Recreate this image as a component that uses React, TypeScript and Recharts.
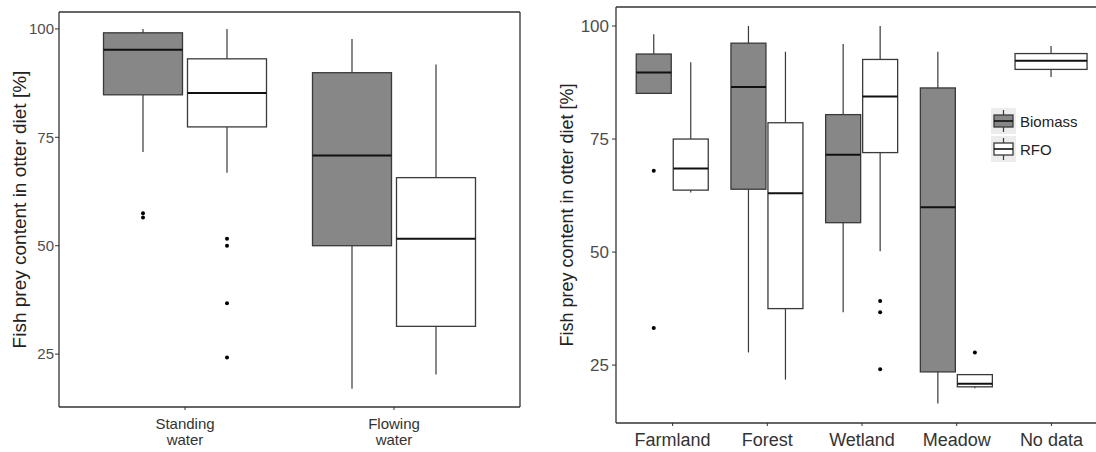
import { Bar, ComposedChart, Legend, XAxis, YAxis } from "recharts";

const font = "'Liberation Sans', Arial, Helvetica, sans-serif";
const biomassFill = "#878787";
const rfoFill = "#ffffff";
const boxStroke = "#3a3a3a";
const frameStroke = "#333333";
const yTitle = "Fish prey content in otter diet [%]";

// box stats: [lower whisker, Q1, median, Q3, upper whisker]
const habitats = ["Standing\nwater", "Flowing\nwater"];
const habitatBiomass = [
  [71.6, 84.8, 95.2, 99.1, 100],
  [17.0, 50.0, 70.8, 89.9, 97.7],
];
const habitatBiomassOutliers = [[57.5, 56.5], []];
const habitatRfo = [
  [66.8, 77.4, 85.2, 93.1, 100],
  [20.3, 31.4, 51.6, 65.7, 91.8],
];
const habitatRfoOutliers = [[51.6, 50.0, 36.7, 24.2], []];

const landUse = ["Farmland", "Forest", "Wetland", "Meadow", "No data"];
const landBiomass = [
  [85.1, 85.1, 89.7, 93.8, 98.2],
  [27.8, 63.9, 86.5, 96.2, 100],
  [36.7, 56.5, 71.5, 80.4, 96.0],
  [16.5, 23.5, 59.9, 86.3, 94.3],
  null,
];
const landBiomassOutliers = [[68.0, 33.2], [], [], [], []];
const landRfo = [
  [63.2, 63.7, 68.5, 75.0, 92.0],
  [21.8, 37.5, 63.0, 78.6, 94.3],
  [50.2, 72.0, 84.4, 92.6, 100],
  [19.9, 20.2, 20.9, 22.9, 22.9],
  [88.7, 90.4, 92.3, 93.9, 95.6],
];
const landRfoOutliers = [[], [], [39.2, 36.7, 24.1], [27.8], []];

const yTicks = [25, 50, 75, 100];
const habitatDomain = [12.8, 103.9];
const landDomain = [12.2, 104.2];

type BoxData = { stats: number[]; outliers: number[] } | null;

function buildRows(names: string[], bio: (number[] | null)[], bioOut: number[][], rfo: (number[] | null)[], rfoOut: number[][]) {
  return names.map((name, i) => ({
    name,
    biomass: bio[i] ? { stats: bio[i] as number[], outliers: bioOut[i] } : null,
    rfo: rfo[i] ? { stats: rfo[i] as number[], outliers: rfoOut[i] } : null,
  }));
}

const habitatRows = buildRows(habitats, habitatBiomass, habitatBiomassOutliers, habitatRfo, habitatRfoOutliers);
const landRows = buildRows(landUse, landBiomass, landBiomassOutliers, landRfo, landRfoOutliers);

// full extent of a box incl. outliers -> used as the bar's [low, high] range
function span(b: BoxData) {
  if (!b) return null;
  return [Math.min(b.stats[0], ...b.outliers), Math.max(b.stats[4], ...b.outliers)];
}

function makeBox(key: "biomass" | "rfo", fill: string, gap: number) {
  return (props: any) => {
    const { x, y, width, height, payload } = props;
    const box: BoxData = payload?.[key];
    if (!box || !isFinite(y) || !isFinite(height)) return <g />;
    const [lo, hi] = span(box) as number[];
    const top = Math.min(y, y + height);
    const h = Math.abs(height);
    const py = (v: number) => top + ((hi - v) / (hi - lo)) * h;
    let left = x;
    let w = width;
    // ggplot gives a lone box the whole dodge width
    if (key === "rfo" && !payload.biomass) {
      left = x - width - gap;
      w = 2 * width + gap;
    }
    const cx = left + w / 2;
    const [wLo, q1, med, q3, wHi] = box.stats;
    return (
      <g>
        <line x1={cx} x2={cx} y1={py(wHi)} y2={py(q3)} stroke={boxStroke} strokeWidth={1.2} />
        <line x1={cx} x2={cx} y1={py(q1)} y2={py(wLo)} stroke={boxStroke} strokeWidth={1.2} />
        <rect x={left} y={py(q3)} width={w} height={py(q1) - py(q3)} fill={fill} stroke={boxStroke} strokeWidth={1.3} />
        <line x1={left} x2={left + w} y1={py(med)} y2={py(med)} stroke="#111" strokeWidth={2} />
        {box.outliers.map((v, i) => (
          <circle key={i} cx={cx} cy={py(v)} r={2} fill="#000" />
        ))}
      </g>
    );
  };
}

function CategoryTick(props: any) {
  const { x, y, payload, size, lineGap, first } = props;
  const lines = String(payload.value).split("\n");
  return (
    <text x={x} y={y} textAnchor="middle" fontSize={size} fill="#333" fontFamily={font}>
      {lines.map((l, i) => (
        <tspan key={i} x={x} dy={i === 0 ? first : lineGap}>
          {l}
        </tspan>
      ))}
    </text>
  );
}

function AxisTitle(props: any) {
  const { viewBox, offsetX, size } = props;
  const cx = (viewBox?.x ?? 0) + offsetX;
  const cy = (viewBox?.y ?? 0) + (viewBox?.height ?? 0) / 2;
  return (
    <text x={cx} y={cy} transform={`rotate(-90 ${cx} ${cy})`} textAnchor="middle" dominantBaseline="central" fontSize={size} fill="#222" fontFamily={font}>
      {yTitle}
    </text>
  );
}

function LegendKeys({ payload }: any) {
  return (
    <div style={{ fontFamily: font, fontSize: 15, color: "#222" }}>
      {(payload || []).map((p: any) => (
        <div key={p.value} style={{ display: "flex", alignItems: "center", height: 28 }}>
          <svg width={25} height={26}>
            <rect x={0} y={0} width={25} height={26} fill="#ececec" />
            <line x1={12.5} x2={12.5} y1={2} y2={24} stroke={boxStroke} strokeWidth={1.2} />
            <rect x={3} y={7} width={19} height={12} fill={p.payload?.fill ?? p.color} stroke={boxStroke} strokeWidth={1.3} />
            <line x1={3} x2={22} y1={13} y2={13} stroke="#111" strokeWidth={1.6} />
          </svg>
          <span style={{ marginLeft: 4 }}>{p.value}</span>
        </div>
      ))}
    </div>
  );
}

export default function App() {
  const axisText = { fill: "#4d4d4d", fontFamily: font };
  const frameLine = { stroke: frameStroke, strokeWidth: 1.3 };
  return (
    <div style={{ position: "fixed", left: 0, top: 0, width: 1096, height: 452, overflow: "hidden", background: "#fff" }}>
      <div style={{ position: "absolute", left: 0, top: 0 }}>
        <ComposedChart width={560} height={452} data={habitatRows} margin={{ top: 11, right: 39, bottom: 0, left: 0 }} barSize={79} barGap={5}>
          <XAxis
            dataKey="name"
            height={45}
            padding={{ left: 21.5, right: 21.5 }}
            tickSize={3}
            tickLine={{ stroke: frameStroke }}
            axisLine={frameLine}
            tick={<CategoryTick size={15} first={17} lineGap={16} />}
            interval={0}
          />
          <XAxis xAxisId="top" orientation="top" dataKey="name" height={1} tick={false} tickLine={false} padding={{ left: 21.5, right: 21.5 }} axisLine={frameLine} />
          <YAxis
            type="number"
            width={59}
            domain={habitatDomain}
            allowDataOverflow
            ticks={yTicks}
            tickSize={4}
            tickMargin={1}
            tick={{ ...axisText, fontSize: 15 }}
            tickLine={{ stroke: frameStroke }}
            axisLine={frameLine}
            label={<AxisTitle offsetX={19} size={19} />}
          />
          <YAxis yAxisId="right" orientation="right" type="number" width={1} domain={habitatDomain} allowDataOverflow tick={false} tickLine={false} axisLine={frameLine} />
          <Bar name="Biomass" dataKey={(d: any) => span(d.biomass)} fill={biomassFill} shape={makeBox("biomass", biomassFill, 5)} isAnimationActive={false} />
          <Bar name="RFO" dataKey={(d: any) => span(d.rfo)} fill={rfoFill} shape={makeBox("rfo", rfoFill, 5)} isAnimationActive={false} />
        </ComposedChart>
      </div>
      <div style={{ position: "absolute", left: 555, top: 0 }}>
        <ComposedChart width={560} height={452} data={landRows} margin={{ top: 6, right: 6, bottom: 0, left: 0 }} barSize={35} barGap={2}>
          <XAxis
            dataKey="name"
            height={29}
            padding={{ left: 9.25, right: 9.25 }}
            tickSize={3}
            tickLine={{ stroke: frameStroke }}
            axisLine={frameLine}
            tick={<CategoryTick size={18} first={18} lineGap={18} />}
            interval={0}
          />
          <XAxis xAxisId="top" orientation="top" dataKey="name" height={1} tick={false} tickLine={false} padding={{ left: 9.25, right: 9.25 }} axisLine={frameLine} />
          <YAxis
            type="number"
            width={61}
            domain={landDomain}
            allowDataOverflow
            ticks={yTicks}
            tickSize={4}
            tickMargin={3}
            tick={{ ...axisText, fontSize: 17 }}
            tickLine={{ stroke: frameStroke }}
            axisLine={frameLine}
            label={<AxisTitle offsetX={12} size={18} />}
          />
          <YAxis yAxisId="right" orientation="right" type="number" width={1} domain={landDomain} allowDataOverflow tick={false} tickLine={false} axisLine={frameLine} />
          <Bar name="Biomass" dataKey={(d: any) => span(d.biomass)} fill={biomassFill} shape={makeBox("biomass", biomassFill, 2)} isAnimationActive={false} />
          <Bar name="RFO" dataKey={(d: any) => span(d.rfo)} fill={rfoFill} shape={makeBox("rfo", rfoFill, 2)} isAnimationActive={false} />
          <Legend layout="vertical" align="center" verticalAlign="middle" content={<LegendKeys />} wrapperStyle={{ left: 436, top: 107, width: "auto" }} />
        </ComposedChart>
      </div>
    </div>
  );
}
